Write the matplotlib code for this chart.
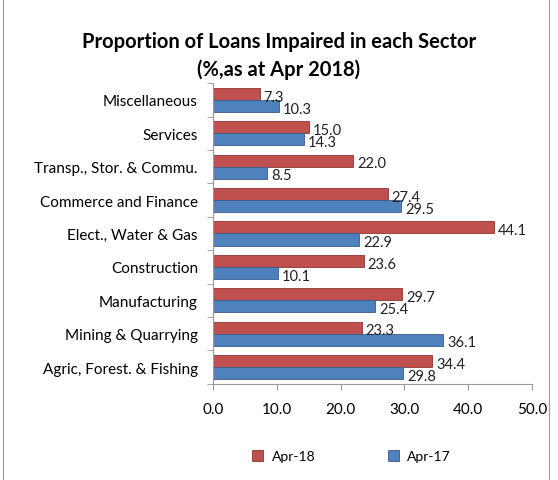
import matplotlib
matplotlib.use("Agg")
import matplotlib.pyplot as plt
import numpy as np
from matplotlib.patches import Rectangle

categories = ["Agric, Forest. & Fishing", "Mining & Quarrying", "Manufacturing",
              "Construction", "Elect., Water & Gas", "Commerce and Finance",
              "Transp., Stor. & Commu.", "Services", "Miscellaneous"]
apr18 = [34.4, 23.3, 29.7, 23.6, 44.1, 27.4, 22.0, 15.0, 7.3]
apr17 = [29.8, 36.1, 25.4, 10.1, 22.9, 29.5, 8.5, 14.3, 10.3]
xticks = [0, 10, 20, 30, 40, 50]

plt.rcParams['font.family'] = ['Lato', 'DejaVu Sans']

fig = plt.figure(figsize=(5.58, 4.81), dpi=100)
ax = fig.add_axes([0.382, 0.200, 0.571, 0.625])

y = np.arange(len(categories))
h = 0.36
red = "#C0504D"
blue = "#4F81BD"
ax.barh(y + h/2, apr18, height=h, color=red, edgecolor="#8E3431", linewidth=0.6, label="Apr-18")
ax.barh(y - h/2, apr17, height=h, color=blue, edgecolor="#385D8A", linewidth=0.6, label="Apr-17")

for yi, v in zip(y, apr18):
    ax.text(v + 0.6, yi + h/2 - 0.08, f"{v:.1f}", va="center", ha="left", fontsize=10.5, color="#222222")
for yi, v in zip(y, apr17):
    ax.text(v + 0.6, yi - h/2 - 0.08, f"{v:.1f}", va="center", ha="left", fontsize=10.5, color="#222222")

ax.set_xlim(0, 50)
ax.set_ylim(-0.5, len(categories) - 0.5)
ax.set_xticks(xticks)
ax.set_xticklabels([f"{t:.1f}" for t in xticks], fontsize=11)
ax.set_yticks(y)
ax.set_yticklabels(categories, fontsize=11)
ax.set_yticks(np.arange(len(categories) + 1) - 0.5, minor=True)
ax.tick_params(axis="y", which="major", length=0, pad=11)
ax.tick_params(axis="y", which="minor", length=4, color="#999999")
ax.tick_params(axis="x", length=4, color="#999999", pad=9)
for s in ["top", "right"]:
    ax.spines[s].set_visible(False)
ax.spines["left"].set_color("#999999")
ax.spines["bottom"].set_color("#999999")

fig.text(0.5, 0.913, "Proportion of Loans Impaired in each Sector", ha="center", va="center",
         fontsize=14.5, fontweight="bold")
fig.text(0.5, 0.855, "(%,as at Apr 2018)", ha="center", va="center",
         fontsize=14.5, fontweight="bold")

fig.legend(loc="center", bbox_to_anchor=(0.63, 0.05), ncol=2, frameon=False, fontsize=10,
           handlelength=0.8, handleheight=0.8, handletextpad=0.6, columnspacing=5.2)

fig.patches.append(Rectangle((0.006, -0.01), 0.978, 1.02, transform=fig.transFigure,
                             fill=False, edgecolor="#999999", linewidth=0.8))

fig.savefig("out.png", dpi=100)
